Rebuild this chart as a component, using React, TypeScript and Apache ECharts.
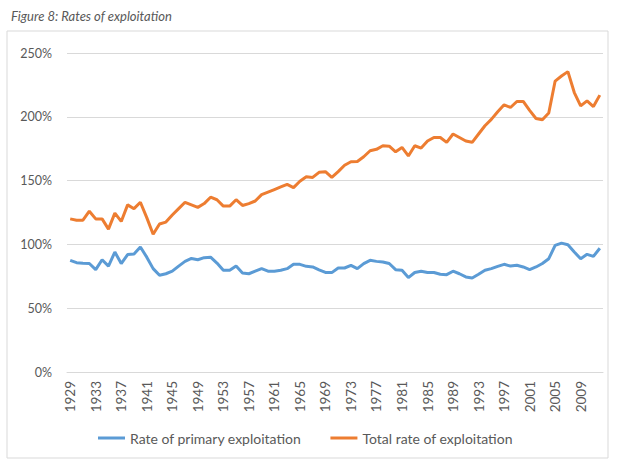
import React, { useEffect, useRef } from "react";
import * as echarts from "echarts";

const years: string[] = [];
for (let y = 1929; y <= 2012; y++) years.push(String(y));

const primaryRate = [
  87.5, 85.7, 85.3, 85, 80.2, 88, 83, 94, 85, 92,
  92.5, 98, 90, 81, 75.8, 77, 79, 83, 86.7, 89,
  88, 89.6, 90, 85.4, 79.7, 79.7, 83, 77.6, 77, 79,
  81, 79, 79, 79.7, 81, 84.4, 84.4, 82.8, 82.3, 80,
  78, 77.9, 81.5, 81.5, 83.6, 81, 84.9, 87.5, 86.7, 86.2,
  85, 80.2, 79.7, 74, 78, 79, 78, 78, 76.6, 76.3,
  79, 77, 74.5, 73.7, 76.6, 79.7, 81, 82.8, 84.4, 83,
  83.6, 82.3, 80.2, 82.3, 85, 88.8, 99.2, 101, 99.7, 94,
  88.8, 92.2, 90.6, 97,
];

const totalRate = [
  120, 119, 119, 126, 120, 120, 112, 124.5, 118, 131,
  128, 133, 121, 108, 116, 117.5, 123, 128, 133, 131,
  129, 132, 137, 135, 130, 130, 135, 130.5, 132, 134,
  139, 141, 143, 145, 147, 144.5, 149.5, 153, 152.5, 156.5,
  157, 152.5, 157, 162, 164.8, 165, 168.7, 173.4, 174.5, 177.3,
  177, 172.6, 176, 169.3, 177.3, 175.5, 181, 183.8, 183.8, 180,
  186.5, 183.8, 181, 180, 186.5, 193, 198, 204, 209.4, 207.3,
  212, 212, 205, 198.7, 197.7, 203, 228, 232, 235.4, 219,
  208.6, 212.5, 208, 217,
];

const seriesNames = ["Rate of primary exploitation", "Total rate of exploitation"];
const titleText = "Figure 8: Rates of exploitation";

export default function App() {
  const ref = useRef<HTMLDivElement>(null);
  useEffect(() => {
    document.body.style.margin = "0";
    if (!ref.current) return;
    const chart = echarts.init(ref.current, undefined, { renderer: "svg" });
    const font = "Lato, 'Open Sans', sans-serif";
    chart.setOption({
      animation: false,
      backgroundColor: "#ffffff",
      title: {
        text: titleText,
        left: 6,
        top: 4,
        textStyle: {
          fontFamily: font,
          fontStyle: "italic",
          fontWeight: "normal",
          fontSize: 13,
          color: "#595959",
        },
      },
      graphic: [
        {
          type: "rect",
          shape: { x: 7, y: 31, width: 601, height: 427 },
          style: { fill: "none", stroke: "#d9d9d9", lineWidth: 1 },
          silent: true,
        },
      ],
      grid: { left: 67, right: 21, top: 53, bottom: 91, containLabel: false },
      legend: {
        bottom: 13,
        left: 93,
        itemWidth: 27,
        itemHeight: 3,
        itemGap: 29,
        icon: "rect",
        textStyle: { fontFamily: font, fontSize: 14, color: "#595959" },
        data: seriesNames,
      },
      xAxis: {
        type: "category",
        data: years,
        boundaryGap: true,
        axisLine: { lineStyle: { color: "#d9d9d9", width: 1 } },
        axisTick: { show: false },
        axisLabel: {
          interval: 3,
          rotate: 90,
          margin: 9,
          fontFamily: font,
          fontSize: 13.5,
          color: "#595959",
        },
      },
      yAxis: {
        type: "value",
        min: 0,
        max: 250,
        interval: 50,
        axisLine: { show: false },
        axisTick: { show: false },
        splitLine: { lineStyle: { color: "#d9d9d9", width: 1 } },
        axisLabel: {
          formatter: "{value}%",
          margin: 15,
          fontFamily: font,
          fontSize: 12.5,
          color: "#595959",
        },
      },
      series: [
        {
          name: seriesNames[0],
          type: "line",
          data: primaryRate,
          symbol: "none",
          lineStyle: { width: 3, color: "#5b9bd5" },
          itemStyle: { color: "#5b9bd5" },
        },
        {
          name: seriesNames[1],
          type: "line",
          data: totalRate,
          symbol: "none",
          lineStyle: { width: 3, color: "#ed7d31" },
          itemStyle: { color: "#ed7d31" },
        },
      ],
    });
    return () => chart.dispose();
  }, []);
  return <div ref={ref} style={{ width: 624, height: 463 }} />;
}
